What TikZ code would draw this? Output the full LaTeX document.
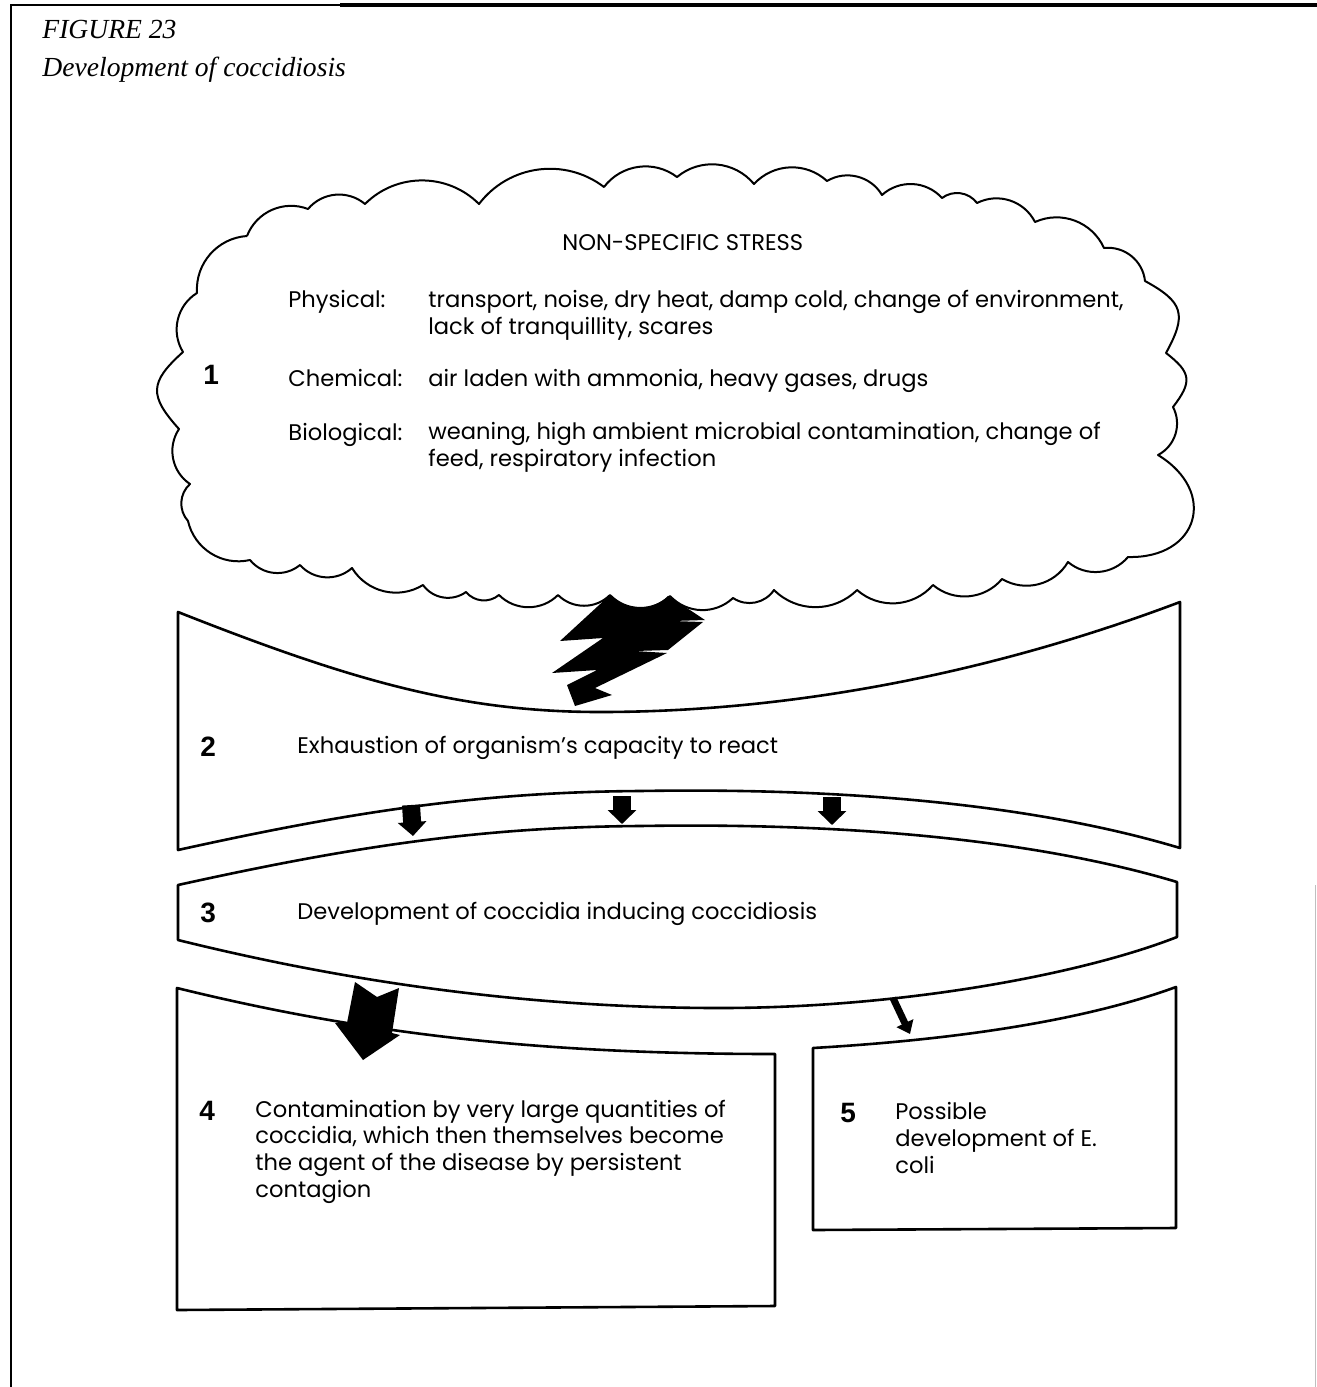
\documentclass[tikz,border=0pt]{standalone}
\usepackage{fontspec}
\setmainfont{Poppins}
\newfontfamily\titlefont{Liberation Serif}
\newfontfamily\numfont{Liberation Sans}
\usetikzlibrary{arrows.meta}
\tikzset{
  frameline/.style={line width=1pt},
  outline/.style={line width=1.3pt, line join=round},
  cloudline/.style={line width=1pt, line join=round},
  body/.style={font=\fontsize{11.3}{13.3}\selectfont, inner sep=0pt, anchor=base west, align=left},
  num/.style={font=\numfont\bfseries\fontsize{14}{14}\selectfont, inner sep=0pt, anchor=base west},
  ttl/.style={font=\titlefont\itshape\fontsize{13.8}{19}\selectfont, inner sep=0pt, anchor=base west},
  blockarrow/.style={line width=9pt, -{Triangle[length=7pt,width=14pt]}},
  thinarrow/.style={line width=3.5pt, -{Triangle[length=6pt,width=9pt]}},
  sc/.style={bend left=45}
}
\begin{document}
\begin{tikzpicture}[x=0.5pt,y=0.5pt]
\useasboundingbox (0,0) rectangle (1317,-1387);
% frame
\draw[frameline] (11,-1387) -- (11,-5) -- (340,-5);
\draw[line width=1.6pt] (340,-5) -- (1317,-5);
\draw[gray!50, line width=0.4pt] (1315,-885) -- (1315,-1387);
% title
\node[ttl] (fig) at (42,-38) {FIGURE 23};
\node[ttl] (sub) at (42,-76) {Development of coccidiosis};
% cloud
\draw[cloudline] (247,-236) to[sc] (308,-209) to[sc] (365,-204) to[sc] (479,-204)
  to[sc] (604,-187) to[sc] (677,-177) to[sc] (754,-184) to[sc] (827,-181)
  to[sc] (882,-195) to[sc] (942,-198) to[sc] (977,-203) to[sc] (1035,-222)
  to[sc] (1104,-248) to[sc] (1145,-281) to[sc,looseness=1.5] (1166,-353)
  to[sc,looseness=1.5] (1173,-407) to[sc] (1158,-455) to[bend left=75,looseness=1.7] (1128,-557)
  to[sc] (1068,-562) to[sc] (1002,-579) to[sc] (933,-585) to[sc] (857,-590)
  to[sc] (774,-590) to[sc] (733,-598) to[sc] (670,-596) to[sc] (610,-595)
  to[sc] (558,-595) to[sc] (499,-595) to[sc] (466,-592) to[sc] (423,-585)
  to[sc] (352,-568) to[sc] (300,-565) to[sc] (250,-560) to[sc] (188,-521)
  to[sc] (190,-484) to[sc] (179,-429) to[sc,looseness=1.5] (183,-352)
  to[sc] (197,-293) to[sc] (247,-236);
% cloud text
\node[body] (ns) at (562,-250) {NON-SPECIFIC STRESS};
\node[num] (n1) at (203,-384) {1};
\node[body] (phys) at (288,-307) {Physical:};
\node[body] (physt) at (428,-334) {transport, noise, dry heat, damp cold, change of environment,\\lack of tranquillity, scares};
\node[body] (chem) at (288,-386) {Chemical:};
\node[body] (chemt) at (428,-386) {air laden with ammonia, heavy gases, drugs};
\node[body] (bio) at (288,-440) {Biological:};
\node[body] (biot) at (428,-466) {weaning, high ambient microbial contamination, change of\\feed, respiratory infection};
% lightning bolt
\fill (610,-595) to[bend right=45] (668,-596) -- (693,-612) -- (705,-620) -- (673,-621)
  -- (703,-622) -- (668,-650) -- (635,-651) -- (667,-653) -- (595,-688) -- (612,-695)
  -- (575,-706) -- (567,-685) -- (597,-670) -- (552,-673) -- (603,-638) -- (560,-641) -- cycle;
% box 2
\draw[outline] (178,-612) .. controls (350,-680) and (460,-712) .. (600,-712)
  .. controls (800,-712) and (1000,-670) .. (1180,-602) -- (1180,-848)
  .. controls (1020,-800) and (820,-788) .. (640,-791)
  .. controls (480,-792) and (350,-812) .. (178,-850) -- cycle;
\node[num] (n2) at (200,-756) {2};
\node[body] (t2) at (297,-753) {Exhaustion of organism's capacity to react};
% box 3
\draw[outline] (178,-885) .. controls (350,-847) and (480,-827) .. (640,-826)
  .. controls (820,-823) and (1020,-835) .. (1177,-882) -- (1177,-937)
  .. controls (1080,-975) and (900,-1008) .. (720,-1008)
  .. controls (560,-1008) and (380,-990) .. (178,-940) -- cycle;
\node[num] (n3) at (200,-922) {3};
\node[body] (t3) at (297,-919) {Development of coccidia inducing coccidiosis};
% arrows 2 -> 3
\coordinate (a1s) at (411,-805); \coordinate (a1e) at (413,-836);
\coordinate (a2s) at (622,-796); \coordinate (a2e) at (622,-824);
\coordinate (a3s) at (832,-797); \coordinate (a3e) at (832,-825);
\draw[blockarrow] (a1s) -- (a1e);
\draw[blockarrow] (a2s) -- (a2e);
\draw[blockarrow] (a3s) -- (a3e);
% box 4
\draw[outline] (177,-988) .. controls (380,-1038) and (560,-1054) .. (775,-1054)
  -- (775,-1306) -- (177,-1310) -- cycle;
\node[num] (n4) at (199,-1120) {4};
\node[body] (t4) at (255,-1197) {Contamination by very large quantities of\\coccidia, which then themselves become\\the agent of the disease by persistent\\contagion};
% box 5
\draw[outline] (813,-1048) .. controls (950,-1040) and (1080,-1022) .. (1176,-987)
  -- (1176,-1228) -- (813,-1230) -- cycle;
\node[num] (n5) at (840,-1122) {5};
\node[body] (t5) at (895,-1173) {Possible\\development of E.\\coli};
% big arrow 3 -> 4
\fill (355,-982) -- (377,-997) -- (399,-988) -- (392,-1033) -- (400,-1035)
  -- (363,-1060) -- (335,-1023) -- (347,-1023) -- cycle;
% arrow 3 -> 5
\coordinate (b5s) at (893,-998); \coordinate (b5e) at (910,-1034);
\draw[thinarrow] (b5s) -- (b5e);
\end{tikzpicture}
\end{document}
